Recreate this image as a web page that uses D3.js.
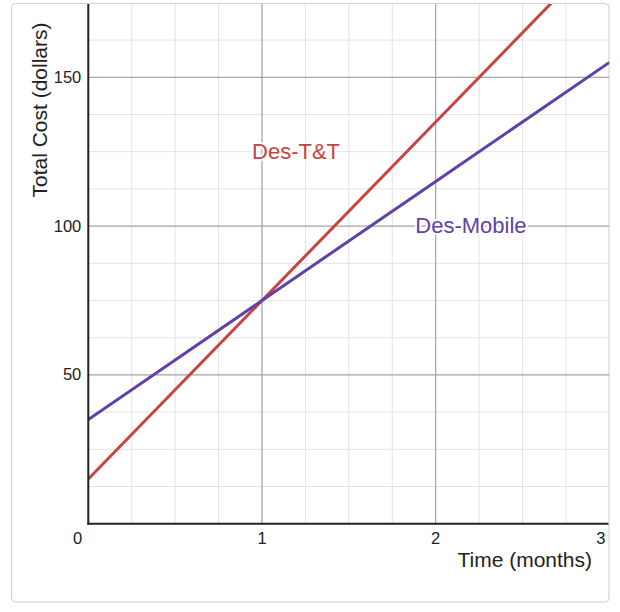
<!DOCTYPE html>
<html>
<head>
<meta charset="utf-8">
<script src="https://cdn.jsdelivr.net/npm/d3@7/dist/d3.min.js"></script>
<style>
  html, body { margin: 0; padding: 0; background: #fff; }
  svg { display: block; }
  text { font-family: Arial, "Liberation Sans", sans-serif; }
</style>
</head>
<body>
<svg id="chart" width="620" height="612"></svg>
<script>
// ---- data ----
const timeMonths = [0, 1, 2, 3];
const ttCost = [15, 75, 135, 195];       // Des-T&T
const mobileCost = [35, 75, 115, 155];   // Des-Mobile
const xTickLabels = ["0", "1", "2", "3"];
const yTickValues = [50, 100, 150];
const seriesNames = ["Des-T&T", "Des-Mobile"];
const xAxisTitle = "Time (months)";
const yAxisTitle = "Total Cost (dollars)";

// ---- layout ----
const svg = d3.select("#chart");
const pLeft = 88.3, pRight = 609.4, pTop = 4, pBottom = 523.7;
const x = d3.scaleLinear().domain([0, 3]).range([pLeft, pRight]);
const y = d3.scaleLinear().domain([0, 150]).range([pBottom, 77.3]);
const yMaxVisible = y.invert(pTop);

// frame
svg.append("rect")
  .attr("x", 11.5).attr("y", 3.5).attr("width", 597.5).attr("height", 598.5)
  .attr("rx", 4).attr("fill", "#fff").attr("stroke", "#cfcfcf").attr("stroke-width", 1);

svg.append("defs").append("clipPath").attr("id", "plotclip")
  .append("rect").attr("x", pLeft).attr("y", pTop).attr("width", pRight - pLeft).attr("height", pBottom - pTop);

const plot = svg.append("g").attr("clip-path", "url(#plotclip)");

// minor grid
const minorX = d3.range(0, 3.0001, 0.25);
const minorY = d3.range(0, yMaxVisible, 12.5);
plot.selectAll(".mx").data(minorX).join("line")
  .attr("x1", d => x(d)).attr("x2", d => x(d)).attr("y1", pTop).attr("y2", pBottom)
  .attr("stroke", "#e3e3e3").attr("stroke-width", 1);
plot.selectAll(".my").data(minorY).join("line")
  .attr("x1", pLeft).attr("x2", pRight).attr("y1", d => y(d)).attr("y2", d => y(d))
  .attr("stroke", "#e3e3e3").attr("stroke-width", 1);

// major grid
plot.selectAll(".Mx").data([1, 2]).join("line")
  .attr("x1", d => x(d)).attr("x2", d => x(d)).attr("y1", pTop).attr("y2", pBottom)
  .attr("stroke", "#9a9a9a").attr("stroke-width", 1);
plot.selectAll(".My").data(yTickValues).join("line")
  .attr("x1", pLeft).attr("x2", pRight).attr("y1", d => y(d)).attr("y2", d => y(d))
  .attr("stroke", "#9a9a9a").attr("stroke-width", 1);

// series lines
const lineGen = d3.line().x(d => x(d[0])).y(d => y(d[1]));
const series = [
  { name: seriesNames[0], values: ttCost, color: "#c74440" },
  { name: seriesNames[1], values: mobileCost, color: "#6042a6" }
];
plot.selectAll(".series").data(series).join("path")
  .attr("d", s => lineGen(timeMonths.map((t, i) => [t, s.values[i]])))
  .attr("fill", "none").attr("stroke", s => s.color).attr("stroke-width", 3);

// axes
svg.append("line").attr("x1", pLeft).attr("x2", pLeft).attr("y1", pTop).attr("y2", pBottom + 1)
  .attr("stroke", "#222").attr("stroke-width", 2);
svg.append("line").attr("x1", pLeft - 1).attr("x2", pRight - 1).attr("y1", pBottom).attr("y2", pBottom)
  .attr("stroke", "#222").attr("stroke-width", 2);

// x tick labels
svg.selectAll(".xt").data(timeMonths).join("text")
  .attr("x", (d, i) => i === 0 ? x(d) - 6 : (i === timeMonths.length - 1 ? x(d) - 4 : x(d)))
  .attr("y", 544)
  .attr("text-anchor", (d, i) => i === 0 || i === timeMonths.length - 1 ? "end" : "middle")
  .attr("font-size", 16.5).attr("fill", "#222")
  .text((d, i) => xTickLabels[i]);

// y tick labels
svg.selectAll(".yt").data(yTickValues).join("text")
  .attr("x", pLeft - 7).attr("y", d => y(d) + 5.5)
  .attr("text-anchor", "end").attr("font-size", 16.5).attr("fill", "#222")
  .text(d => d);

// axis titles
svg.append("text").attr("x", 592).attr("y", 567).attr("text-anchor", "end")
  .attr("font-size", 21).attr("fill", "#222").text(xAxisTitle);
svg.append("text").attr("transform", "translate(46.5,110) rotate(-90)")
  .attr("text-anchor", "middle").attr("font-size", 21).attr("fill", "#222").text(yAxisTitle);

// series labels
const labelPos = [
  { t: 1.196, v: 122.5 },
  { t: 2.203, v: 97.7 }
];
svg.selectAll(".lbl").data(series).join("text")
  .attr("x", (s, i) => x(labelPos[i].t))
  .attr("y", (s, i) => y(labelPos[i].v))
  .attr("text-anchor", "middle")
  .attr("font-size", 22)
  .attr("fill", s => s.color)
  .attr("stroke", "#fff").attr("stroke-width", 4).attr("stroke-linejoin", "round")
  .attr("paint-order", "stroke")
  .text(s => s.name);
</script>
</body>
</html>
